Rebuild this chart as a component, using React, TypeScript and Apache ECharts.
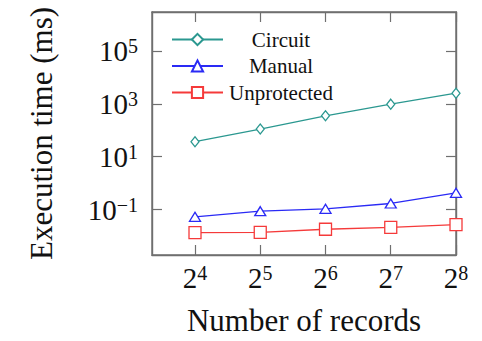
import React, { useEffect, useRef } from "react";
import * as echarts from "echarts";

// Number of records per run (plotted on a log2 scale)
const records = [16, 32, 64, 128, 256];
// Execution time in milliseconds
const circuitMs = [37, 112, 356, 980, 2550];
const manualMs = [0.053, 0.087, 0.107, 0.17, 0.43];
const unprotectedMs = [0.0135, 0.0137, 0.018, 0.021, 0.027];

// Tick positions, as exponents of the axis base
const xTickExponents = [4, 5, 6, 7, 8];
const yTickExponents = [-1, 1, 3, 5];

const FONT = "'Liberation Serif', 'Times New Roman', serif";
const FRAME = "#6f6f6f";

const supLabel = (base: string, exp: number) => {
  const e = exp < 0 ? "\u2212" + -exp : String(exp);
  return `{b|${base}}{s|${e}}`;
};

const labelRich = {
  b: { fontSize: 29, fontFamily: FONT, color: "#111", lineHeight: 30 },
  s: { fontSize: 20, fontFamily: FONT, color: "#111", lineHeight: 14, verticalAlign: "top" },
};

const toPoints = (vals: number[]) =>
  vals.map((v, i) => [Math.log2(records[i]), Math.log10(v)]);

export default function App() {
  const ref = useRef<HTMLDivElement>(null);

  useEffect(() => {
    if (!ref.current) return;
    const chart = echarts.init(ref.current, null, { renderer: "svg" });

    const series = (name: string, vals: number[], color: string, symbol: string, size: number[]) => ({
      name,
      type: "line",
      data: toPoints(vals),
      symbol,
      symbolSize: size,
      showSymbol: true,
      lineStyle: { color, width: 1.3 },
      itemStyle: { color: "#fff", borderColor: color, borderWidth: 1.3 },
      emphasis: { disabled: true },
    });

    const frameLine = { show: true, onZero: false, lineStyle: { color: FRAME, width: 1.4 } };

    chart.setOption({
      animation: false,
      backgroundColor: "#fff",
      grid: {
        left: 152,
        top: 12,
        right: 26,
        bottom: 84,
        show: true,
        borderColor: FRAME,
        borderWidth: 1.4,
      },
      legend: {
        orient: "vertical",
        left: 171,
        top: 29,
        padding: 0,
        itemWidth: 51,
        itemHeight: 14,
        itemGap: 5.5,
        data: ["Circuit", "Manual", "Unprotected"],
        formatter: (name: string) => `{c|${name}}`,
        textStyle: {
          color: "#111",
          rich: {
            c: { width: 106, align: "center", fontSize: 21, fontFamily: FONT, lineHeight: 21, color: "#111" },
          },
        },
      },
      xAxis: [
        {
          type: "value",
          min: 3.341,
          max: 8,
          name: "Number of records",
          nameLocation: "middle",
          nameGap: 50,
          nameTextStyle: { fontSize: 31, fontFamily: FONT, color: "#111" },
          axisLine: frameLine,
          axisTick: { inside: true, length: 10, customValues: xTickExponents, lineStyle: { color: FRAME, width: 1.2 } },
          axisLabel: {
            customValues: xTickExponents,
            margin: 8,
            formatter: (v: number) => supLabel("2", v),
            rich: labelRich,
          },
          splitLine: { show: false },
        },
        {
          type: "value",
          position: "top",
          min: 3.341,
          max: 8,
          axisLine: frameLine,
          axisTick: { inside: true, length: 10, customValues: xTickExponents, lineStyle: { color: FRAME, width: 1.2 } },
          axisLabel: { show: false },
          splitLine: { show: false },
        },
      ],
      yAxis: [
        {
          type: "value",
          min: -2.72,
          max: 6.48,
          name: "Execution time (ms)",
          nameLocation: "middle",
          nameRotate: 90,
          nameGap: 95,
          nameTextStyle: { fontSize: 31, fontFamily: FONT, color: "#111" },
          axisLine: frameLine,
          axisTick: { inside: true, length: 10, customValues: yTickExponents, lineStyle: { color: FRAME, width: 1.2 } },
          axisLabel: {
            customValues: yTickExponents,
            margin: 14,
            formatter: (v: number) => supLabel("10", v),
            rich: labelRich,
          },
          splitLine: { show: false },
        },
        {
          type: "value",
          position: "right",
          min: -2.72,
          max: 6.48,
          axisLine: frameLine,
          axisTick: { inside: true, length: 10, customValues: yTickExponents, lineStyle: { color: FRAME, width: 1.2 } },
          axisLabel: { show: false },
          splitLine: { show: false },
        },
      ],
      series: [
        series("Circuit", circuitMs, "#2b9890", "diamond", [8, 10]),
        series("Manual", manualMs, "#2a2af5", "triangle", [11, 9]),
        series("Unprotected", unprotectedMs, "#f53a3a", "rect", [12, 12]),
      ],
    });

    return () => chart.dispose();
  }, []);

  return (
    <div
      ref={ref}
      style={{ position: "fixed", left: 0, top: 0, width: 482, height: 341, background: "#fff" }}
    />
  );
}
